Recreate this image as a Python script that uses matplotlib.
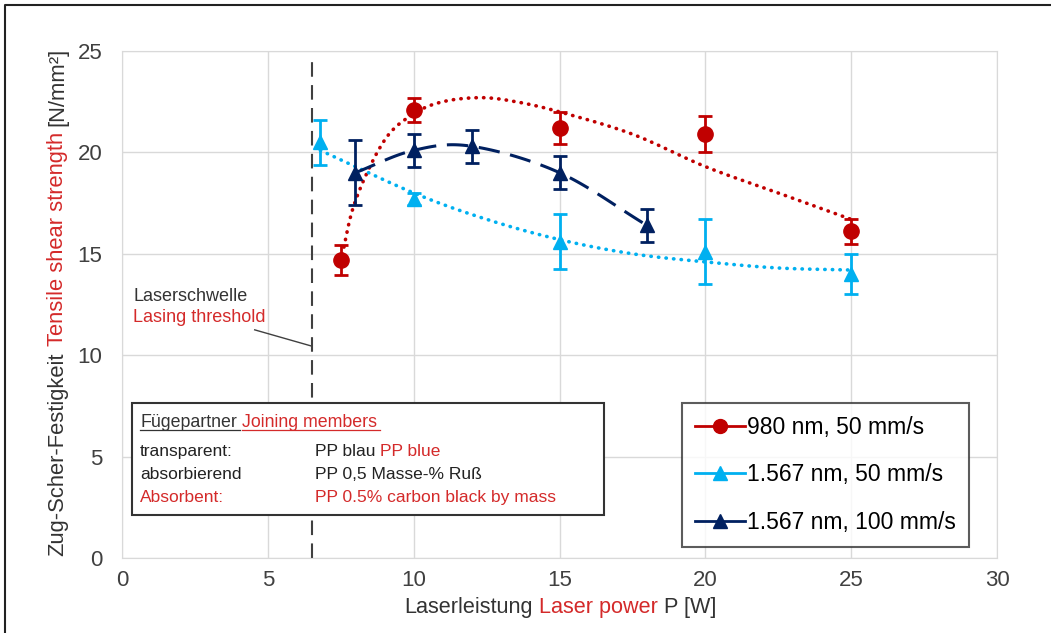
import numpy as np
import matplotlib
matplotlib.use('Agg')
import matplotlib.pyplot as plt
from matplotlib.lines import Line2D
from matplotlib.patches import Rectangle
from matplotlib.transforms import IdentityTransform

plt.rcParams['font.family'] = ['Liberation Sans', 'DejaVu Sans']

# Messdaten
p_980 = [7.5, 10, 15, 20, 25]
f_980 = [14.7, 22.1, 21.2, 20.9, 16.1]
e_980 = [0.75, 0.6, 0.8, 0.9, 0.6]

p_1567_50 = [6.8, 10, 15, 20, 25]
f_1567_50 = [20.5, 17.7, 15.6, 15.1, 14.0]
e_1567_50 = [1.1, 0.3, 1.35, 1.6, 1.0]

p_1567_100 = [8, 10, 12, 15, 18]
f_1567_100 = [19.0, 20.1, 20.3, 19.0, 16.4]
e_1567_100 = [1.6, 0.8, 0.8, 0.8, 0.8]

# Trendlinien
trend_980_x = [7.5, 8, 9, 10, 11, 12.3, 13.5, 15, 17.5, 20, 22.5, 25]
trend_980_y = [14.6, 17.6, 20.6, 21.9, 22.5, 22.7, 22.5, 22.0, 20.9, 19.3, 18.0, 16.7]
trend_1567_x = [6.8, 10, 12.5, 15, 17.5, 20, 22.5, 25]
trend_1567_y = [20.1, 18.0, 16.7, 15.7, 15.0, 14.6, 14.3, 14.2]

labels = ['980 nm, 50 mm/s', '1.567 nm, 50 mm/s', '1.567 nm, 100 mm/s']
threshold = 6.5

RED = '#C00000'
RED_TXT = '#D42A2A'
LBLUE = '#00B0F0'
NAVY = '#002060'
W, H = 1051, 633


def catmull_rom(x, y, n=30):
    # geglaettete Linie wie in Excel
    x = np.asarray(x, float)
    y = np.asarray(y, float)
    px = np.concatenate([[2 * x[0] - x[1]], x, [2 * x[-1] - x[-2]]])
    py = np.concatenate([[2 * y[0] - y[1]], y, [2 * y[-1] - y[-2]]])
    xs, ys = [], []
    t = np.linspace(0, 1, n)
    for i in range(1, len(px) - 2):
        for arr, out in ((px, xs), (py, ys)):
            p0, p1, p2, p3 = arr[i - 1], arr[i], arr[i + 1], arr[i + 2]
            out.extend(0.5 * (2 * p1 + (-p0 + p2) * t + (2 * p0 - 5 * p1 + 4 * p2 - p3) * t ** 2
                              + (-p0 + 3 * p1 - 3 * p2 + p3) * t ** 3))
    return np.array(xs), np.array(ys)


def color_text(fig, x, y, parts, size, rotation=0, align='left', underline=False):
    # mehrfarbiger Text, x/y in Pixeln von oben links
    r = fig.canvas.get_renderer()
    gap = size * 100 / 72 * 0.278
    objs = []
    for s, c in parts:
        t = fig.text(0, 0, s, color=c, fontsize=size, rotation=rotation,
                     transform=IdentityTransform(), ha='left', va='baseline')
        objs.append(t)
    lens = []
    for t in objs:
        bb = t.get_window_extent(r)
        lens.append(bb.height if rotation else bb.width)
    total = sum(lens) + gap * (len(lens) - 1)
    pos = -total / 2 if align == 'center' else 0
    for t, L in zip(objs, lens):
        if rotation:
            t.set_position((x, H - y + pos))
            t.set_ha('center')
            t.set_va('bottom')
        else:
            t.set_position((x + pos, H - y))
            if underline:
                fig.add_artist(Line2D([x + pos, x + pos + L + gap * 0.6], [H - y - 3, H - y - 3],
                                      transform=IdentityTransform(), color=t.get_color(), lw=0.9))
        pos += L + gap


fig = plt.figure(figsize=(W / 100, H / 100), dpi=100)
ax = fig.add_axes([122 / W, 1 - 558 / H, 875 / W, 507 / H])

ax.set_xlim(0, 30)
ax.set_ylim(0, 25)
ax.set_xticks(range(0, 31, 5))
ax.set_yticks(range(0, 26, 5))
ax.grid(True, color='#D9D9D9', lw=1)
ax.set_axisbelow(True)
for s in ax.spines.values():
    s.set_color('#D9D9D9')
ax.tick_params(length=0, labelsize=16, colors='#404040')
ax.tick_params(axis='y', pad=14)
ax.tick_params(axis='x', pad=9)

# Laserschwelle
ax.plot([threshold, threshold], [0, 24.6], color='#404040', lw=1.5, ls=(0, (7, 4)), zorder=2)
ax.text(0.38, 12.9, 'Laserschwelle', fontsize=13, color='#333333', va='center')
ax.text(0.38, 11.85, 'Lasing threshold', fontsize=13, color=RED_TXT, va='center')
ax.plot([4.55, threshold], [11.25, 10.45], color='#404040', lw=1)

# Trendlinien
xr, yr = catmull_rom(trend_980_x, trend_980_y)
ax.plot(xr, yr, color=RED, lw=2.6, ls=(0, (0.1, 2)), dash_capstyle='round', zorder=3)
xl, yl = catmull_rom(trend_1567_x, trend_1567_y)
ax.plot(xl, yl, color=LBLUE, lw=2.6, ls=(0, (0.1, 2)), dash_capstyle='round', zorder=3)
xn, yn = catmull_rom(p_1567_100, f_1567_100)
ax.plot(xn, yn, color=NAVY, lw=2.2, ls=(0, (7, 3.5)), zorder=3)

# Messpunkte
ax.errorbar(p_980, f_980, yerr=e_980, fmt='o', color=RED, ms=11, capsize=5,
            elinewidth=2, capthick=2, zorder=5)
ax.errorbar(p_1567_50, f_1567_50, yerr=e_1567_50, fmt='^', color=LBLUE, ms=10, capsize=5,
            elinewidth=2, capthick=2, zorder=5)
ax.errorbar(p_1567_100, f_1567_100, yerr=e_1567_100, fmt='^', color=NAVY, ms=10, capsize=5,
            elinewidth=2, capthick=2, zorder=6)

# Legende
handles = [Line2D([], [], color=RED, marker='o', ms=10, lw=2),
           Line2D([], [], color=LBLUE, marker='^', ms=10, lw=2),
           Line2D([], [], color=NAVY, marker='^', ms=10, lw=2)]
leg = ax.legend(handles, labels, loc='upper left', bbox_to_anchor=((682 - 122) / 875, (558 - 403) / 507),
                fontsize=16.5, frameon=True, fancybox=False, handlelength=2.2, handletextpad=0.1,
                labelspacing=1.08, borderpad=0.55, borderaxespad=0)
leg.get_frame().set_edgecolor('#333333')
leg.get_frame().set_linewidth(1.5)
leg.set_zorder(10)

# Infobox Fuegepartner
ax.add_patch(Rectangle((0.34, 2.12), 16.19, 5.52, facecolor='white', edgecolor='#333333',
                       lw=1.5, zorder=8))
fig.canvas.draw()
color_text(fig, 140, 427, [('Fügepartner', '#333333'), ('Joining members', RED_TXT)], 12.8,
           underline=True)
color_text(fig, 140, 456, [('transparent:', '#222222')], 12.5)
color_text(fig, 140, 479, [('absorbierend', '#222222')], 12.5)
color_text(fig, 140, 502, [('Absorbent:', RED_TXT)], 12.5)
color_text(fig, 315, 456, [('PP blau', '#222222'), ('PP blue', RED_TXT)], 12.5)
color_text(fig, 315, 479, [('PP 0,5 Masse-% Ruß', '#222222')], 12.5)
color_text(fig, 315, 502, [('PP 0.5% carbon black by mass', RED_TXT)], 12.5)

# Achsenbeschriftungen
color_text(fig, 560, 613, [('Laserleistung', '#333333'), ('Laser power', RED_TXT), ('P [W]', '#333333')],
           15.6, align='center')
color_text(fig, 58, 302, [('Zug-Scher-Festigkeit', '#333333'), ('Tensile shear strength', RED_TXT),
                          ('[N/mm²]', '#333333')], 15.8, rotation=90, align='center')

# Rahmen
fig.add_artist(Line2D([5, 5, W], [0, H - 5, H - 5], transform=IdentityTransform(),
                      color='#222222', lw=1.5))

fig.savefig('out.png', dpi=100)
